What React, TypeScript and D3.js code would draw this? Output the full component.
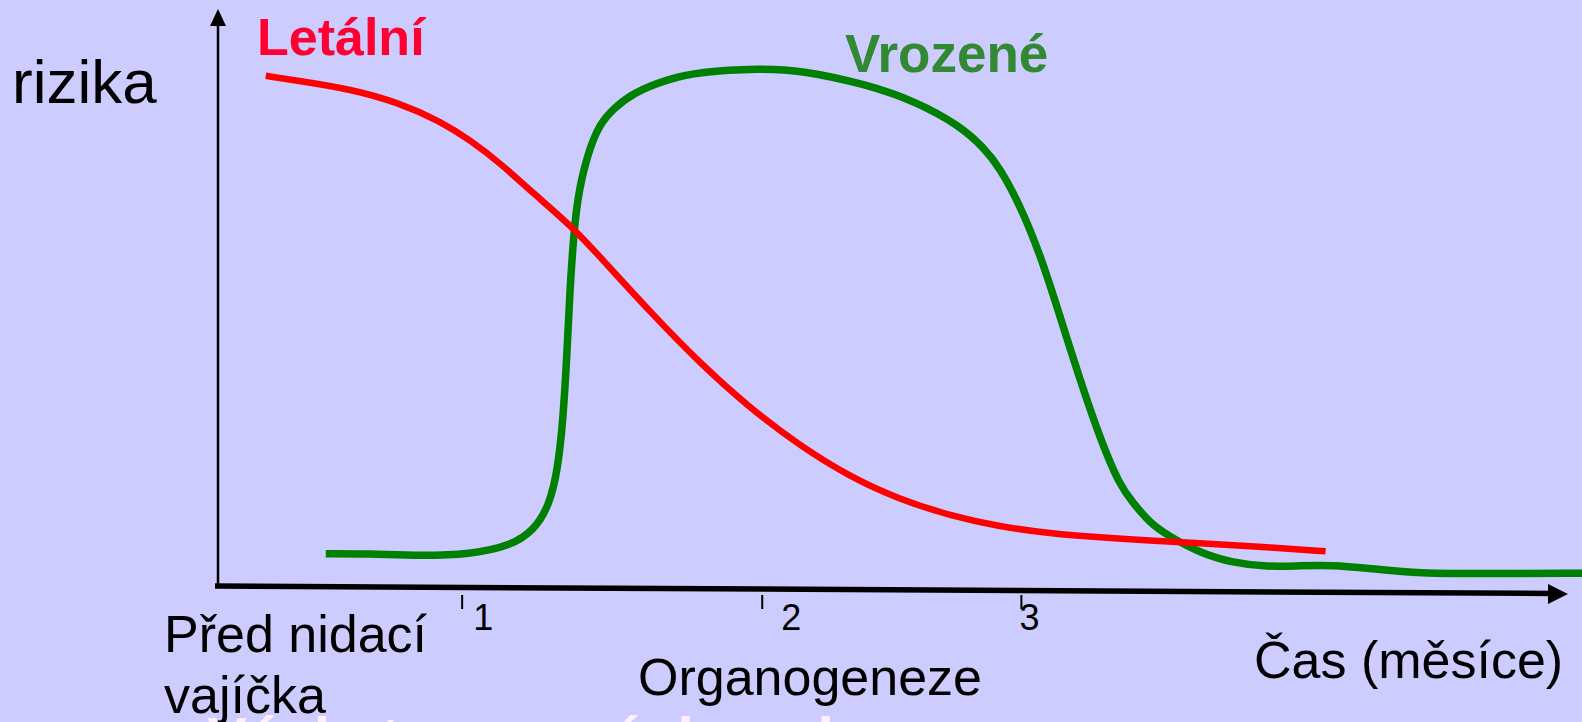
import { useEffect, useRef } from "react";
import * as d3 from "d3";

// x = time along the axis (0..100 of the axis length), y = risk in % of the axis height
const letalniX = [3.5, 6.0, 9.7, 13.3, 16.3, 18.5, 20.7, 23.1, 26.0, 28.2, 31.7, 35.3, 39.0, 42.7, 46.3, 50.0, 53.7, 57.3, 61.0, 64.7, 68.3, 72.0, 75.7, 81.2];
const letalniY = [88.9, 88.0, 86.6, 84.2, 81.0, 77.7, 73.7, 68.5, 62.6, 56.9, 47.8, 39.0, 31.1, 24.5, 19.2, 15.2, 12.4, 10.5, 9.3, 8.6, 8.1, 7.6, 7.1, 6.2];

const vrozeneX = [7.9, 11.1, 14.8, 18.5, 21.4, 23.2, 24.3, 24.9, 25.3, 25.6, 25.8, 26.0, 26.3, 27.1, 28.0, 29.0, 30.4, 32.9, 35.3, 39.7, 42.7, 47.6, 51.2, 54.4, 56.1, 57.3, 58.8, 60.3, 61.7, 63.2, 64.7, 66.1, 67.1, 68.3, 69.6, 72.0, 74.4, 76.9, 79.3, 81.7, 84.2, 87.9, 91.6, 100];
const vrozeneY = [5.8, 5.8, 5.4, 5.7, 7.1, 9.9, 14.3, 20.3, 29.0, 41.2, 51.7, 58.6, 67.3, 75.5, 80.6, 83.2, 85.9, 88.3, 89.6, 90.2, 89.9, 87.4, 84.4, 80.2, 76.5, 73.0, 66.4, 57.7, 47.3, 36.0, 25.6, 17.7, 14.6, 11.2, 9.0, 5.9, 4.2, 3.5, 3.7, 3.8, 3.3, 2.4, 2.3, 2.4];

const tickValues = [17.9, 39.9, 58.9];
const tickLabels = ["1", "2", "3"];

const yTitle = "rizika";
const xTitle = "Čas (měsíce)";
const phase1 = ["Před nidací", "vajíčka"];
const phase2 = "Organogeneze";
const seriesNames = ["Letální", "Vrozené"];
const bottomTitle = "Výskyt vrozených vad";

const App = () => {
  const svgRef = useRef<SVGSVGElement | null>(null);

  useEffect(() => {
    const svg = d3.select(svgRef.current);
    svg.selectAll("*").remove();

    const width = 1582;
    const height = 722;
    const font = "'Liberation Sans', Arial, sans-serif";

    const x = d3.scaleLinear().domain([0, 100]).range([218, 1582]);
    const y = d3.scaleLinear().domain([0, 100]).range([587, 12]);

    svg.attr("width", width).attr("height", height);

    svg.append("rect").attr("width", width).attr("height", height).attr("fill", "#ccccff");

    // bottom slide title, only its top edge shows inside the frame
    svg.append("text")
      .attr("x", 207)
      .attr("y", 759)
      .text(bottomTitle)
      .attr("fill", "#ffeeff")
      .attr("font-family", font)
      .attr("font-weight", "bold")
      .attr("font-size", 60);

    // y axis with arrow
    svg.append("line")
      .attr("x1", x(0)).attr("x2", x(0))
      .attr("y1", y(0)).attr("y2", 24)
      .attr("stroke", "black").attr("stroke-width", 2.5);
    svg.append("path")
      .attr("d", `M${x(0)},9 L${x(0) - 8},26 L${x(0) + 8},26 Z`)
      .attr("fill", "black");

    // x axis (slightly tilted as in the slide) with arrow
    const xEnd = x(100) - 14;
    svg.append("line")
      .attr("x1", x(0) - 3).attr("x2", xEnd - 16)
      .attr("y1", y(0) - 1).attr("y2", y(0) + 6.5)
      .attr("stroke", "black").attr("stroke-width", 5.5);
    svg.append("path")
      .attr("d", `M${xEnd},${y(0) + 7} L${xEnd - 20},${y(0) - 3} L${xEnd - 20},${y(0) + 17} Z`)
      .attr("fill", "black");

    // ticks
    const labelOffset = [11, 19, -2];
    tickValues.forEach((v, i) => {
      svg.append("line")
        .attr("x1", x(v)).attr("x2", x(v))
        .attr("y1", 595).attr("y2", 609)
        .attr("stroke", "black").attr("stroke-width", 2);
      svg.append("text")
        .attr("x", x(v) + labelOffset[i])
        .attr("y", 630)
        .text(tickLabels[i])
        .attr("fill", "black")
        .attr("font-family", font)
        .attr("font-size", 36);
    });

    const line = d3.line<[number, number]>()
      .x(d => x(d[0]))
      .y(d => y(d[1]))
      .curve(d3.curveBasis);

    const letalni = letalniX.map((v, i) => [v, letalniY[i]] as [number, number]);
    const vrozene = vrozeneX.map((v, i) => [v, vrozeneY[i]] as [number, number]);

    svg.append("path")
      .attr("d", line(vrozene))
      .attr("fill", "none")
      .attr("stroke", "#008000")
      .attr("stroke-width", 7.5);

    svg.append("path")
      .attr("d", line(letalni))
      .attr("fill", "none")
      .attr("stroke", "#ff0000")
      .attr("stroke-width", 6.5);

    // texts
    const addText = (t: string, tx: number, ty: number, size: number, fill = "black", weight = "normal") =>
      svg.append("text")
        .attr("x", tx).attr("y", ty)
        .text(t)
        .attr("fill", fill)
        .attr("font-family", font)
        .attr("font-weight", weight)
        .attr("font-size", size);

    addText(yTitle, 12, 103, 62);
    addText(seriesNames[0], 257, 55, 52, "#ff0033", "bold");
    addText(seriesNames[1], 845, 72, 53, "#338833", "bold");
    addText(phase1[0], 164, 652, 52);
    addText(phase1[1], 164, 713, 52);
    addText(phase2, 638, 695, 52);
    addText(xTitle, 1254, 678, 52);
  }, []);

  return <svg ref={svgRef} style={{ position: "absolute", left: 0, top: 0 }}></svg>;
};

export default App;
